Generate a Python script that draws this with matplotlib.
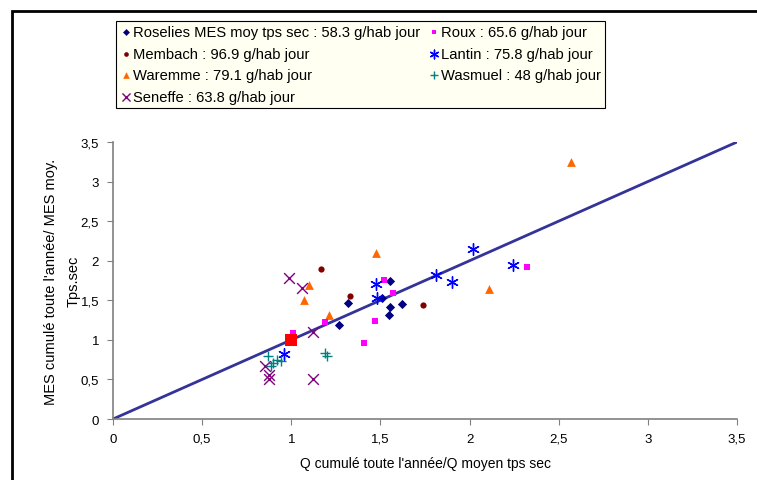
import matplotlib.pyplot as plt
from matplotlib.patches import Rectangle

plt.rcParams['font.family'] = ['Liberation Sans', 'DejaVu Sans']

# series (x = Q ratio, y = MES ratio)
roselies_x = [1.27, 1.32, 1.51, 1.555, 1.555, 1.62, 1.546]
roselies_y = [1.19, 1.47, 1.53, 1.74, 1.42, 1.45, 1.31]

roux_x = [1.01, 1.19, 1.52, 1.57, 1.47, 1.41, 2.32]
roux_y = [1.09, 1.22, 1.76, 1.59, 1.235, 0.96, 1.92]

membach_x = [1.168, 1.33, 1.74]
membach_y = [1.89, 1.55, 1.44]

lantin_x = [0.96, 1.475, 1.48, 1.81, 1.90, 2.02, 2.245]
lantin_y = [0.82, 1.70, 1.525, 1.82, 1.735, 2.15, 1.94]

waremme_x = [1.10, 1.07, 1.21, 1.475, 2.11, 2.57]
waremme_y = [1.69, 1.50, 1.31, 2.10, 1.64, 3.245]

wasmuel_x = [0.87, 0.885, 0.90, 0.92, 0.94, 1.19, 1.20]
wasmuel_y = [0.79, 0.665, 0.71, 0.74, 0.73, 0.84, 0.80]

seneffe_x = [0.985, 1.06, 1.12, 1.12, 0.855, 0.873, 0.873]
seneffe_y = [1.78, 1.66, 1.10, 0.50, 0.665, 0.55, 0.50]

ref_x = [1.0]
ref_y = [1.0]

line_x = [0, 3.5]
line_y = [0, 3.5]

ticks = [0, 0.5, 1, 1.5, 2, 2.5, 3, 3.5]
tick_labels = ['0', '0,5', '1', '1,5', '2', '2,5', '3', '3,5']

fig = plt.figure(figsize=(7.57, 4.81), dpi=100)
ax = fig.add_axes([0.1493, 0.1268, 0.8243, 0.5759])

ax.plot(line_x, line_y, color='#333399', lw=2, zorder=2)

h1 = ax.scatter(roselies_x, roselies_y, marker='D', s=22, color='#000080', lw=0, zorder=3,
                label='Roselies MES moy tps sec : 58.3 g/hab jour')
h2 = ax.scatter(membach_x, membach_y, marker='o', s=20, color='#800000', lw=0, zorder=3,
                label='Membach : 96.9 g/hab jour')
h3 = ax.scatter(waremme_x, waremme_y, marker='^', s=40, color='#FF6600', lw=0, zorder=3,
                label='Waremme : 79.1 g/hab jour')
h4 = ax.scatter(seneffe_x, seneffe_y, marker='x', s=60, color='#800080', lw=1, zorder=3,
                label='Seneffe : 63.8 g/hab jour')
h5 = ax.scatter(roux_x, roux_y, marker='s', s=20, color='#FF00FF', lw=0, zorder=3,
                label='Roux : 65.6 g/hab jour')
h6 = ax.scatter(lantin_x, lantin_y, marker=(6, 2, 0), s=70, color='#0000FF', lw=1, zorder=3,
                label='Lantin : 75.8 g/hab jour')
h7 = ax.scatter(wasmuel_x, wasmuel_y, marker='+', s=60, color='#008080', lw=1, zorder=3,
                label='Wasmuel : 48 g/hab jour')
ax.scatter(ref_x, ref_y, marker='s', s=80, color='#FF0000', lw=0, zorder=4)

ax.set_xlim(0, 3.5)
ax.set_ylim(0, 3.5)
ax.set_xticks(ticks)
ax.set_xticklabels(tick_labels)
ax.set_yticks(ticks)
ax.set_yticklabels(tick_labels)
ax.tick_params(direction='out', length=4, color='#808080', labelsize=9.5, pad=6)

for side in ['top', 'right']:
    ax.spines[side].set_visible(False)
for side in ['left', 'bottom']:
    ax.spines[side].set_color('#808080')
    ax.spines[side].set_linewidth(1.2)

ax.set_xlabel("Q cumulé toute l'année/Q moyen tps sec", fontsize=10, labelpad=8)
ax.set_ylabel("MES cumulé toute l'année/ MES moy.\nTps.sec", fontsize=10.5,
              labelpad=0, linespacing=1.8)

leg = fig.legend(handles=[h1, h2, h3, h4, h5, h6, h7], ncol=2, loc='upper left',
                 bbox_to_anchor=(0.148, 0.963), fontsize=10.6, fancybox=False,
                 frameon=True, handletextpad=0.1, handlelength=0.8, columnspacing=0.5,
                 labelspacing=0.52, borderpad=0.25, borderaxespad=0.3, scatterpoints=1,
                 markerscale=0.75)
leg.get_frame().set_facecolor('#FFFFF2')
leg.get_frame().set_edgecolor('#000000')
leg.get_frame().set_linewidth(0.8)
leg.get_frame().set_alpha(1)

# outer frame around the chart
fig.add_artist(Rectangle((12 / 757, -0.5), 2.0, 0.975 + 0.5, transform=fig.transFigure,
                         fill=False, edgecolor='black', lw=2, clip_on=False))

fig.savefig('out.png', dpi=100)
